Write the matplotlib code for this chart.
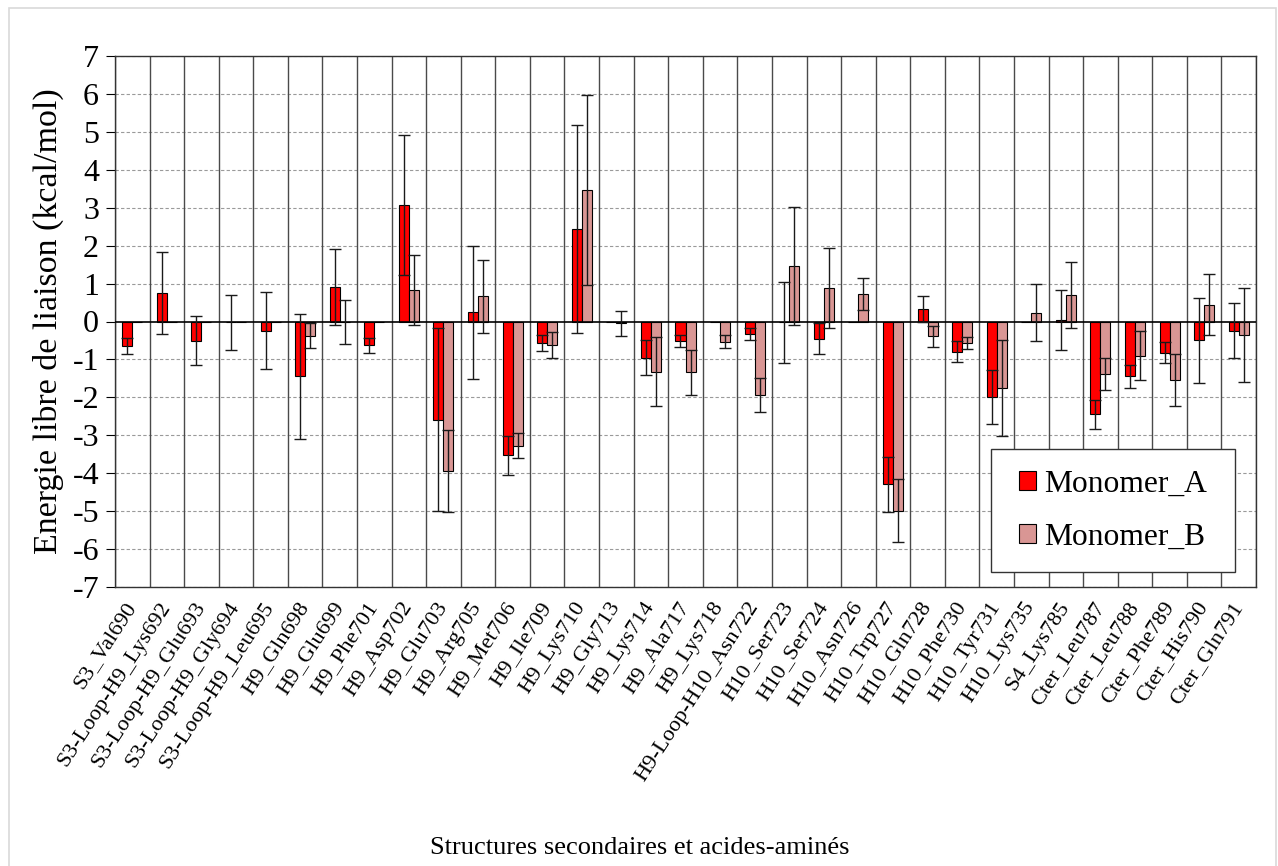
import numpy as np
import matplotlib
matplotlib.use("Agg")
import matplotlib.pyplot as plt
from matplotlib.patches import Rectangle

plt.rcParams['font.family'] = ['Liberation Serif', 'DejaVu Serif']

categories = ["S3_Val690", "S3-Loop-H9_Lys692", "S3-Loop-H9_Glu693", "S3-Loop-H9_Gly694",
              "S3-Loop-H9_Leu695", "H9_Gln698", "H9_Glu699", "H9_Phe701", "H9_Asp702",
              "H9_Glu703", "H9_Arg705", "H9_Met706", "H9_Ile709", "H9_Lys710", "H9_Gly713",
              "H9_Lys714", "H9_Ala717", "H9_Lys718", "H9-Loop-H10_Asn722", "H10_Ser723",
              "H10_Ser724", "H10_Asn726", "H10_Trp727", "H10_Gln728", "H10_Phe730",
              "H10_Tyr731", "H10_Lys735", "S4_Lys785", "Cter_Leu787", "Cter_Leu788",
              "Cter_Phe789", "Cter_His790", "Cter_Gln791"]

mono_a = [-0.64, 0.76, -0.51, -0.02, -0.24, -1.45, 0.91, -0.63, 3.07, -2.59, 0.24,
          -3.53, -0.57, 2.44, 0.0, -0.96, -0.51, 0.0, -0.33, -0.02, -0.46, 0.0, -4.29,
          0.34, -0.80, -1.99, 0.0, 0.04, -2.45, -1.45, -0.82, -0.50, -0.24]
err_a = [0.21, 1.08, 0.65, 0.73, 1.01, 1.65, 1.01, 0.19, 1.84, 2.41, 1.76, 0.51, 0.21,
         2.75, 0.0, 0.46, 0.16, 0.0, 0.15, 1.07, 0.41, 0.0, 0.72, 0.34, 0.28, 0.70, 0.0,
         0.78, 0.38, 0.30, 0.28, 1.11, 0.72]

mono_b = [0.0, 0.0, 0.0, 0.0, 0.0, -0.37, -0.01, 0.0, 0.84, -3.94, 0.66, -3.27, -0.62,
          3.47, -0.05, -1.32, -1.34, -0.53, -1.93, 1.47, 0.89, 0.72, -4.99, -0.39, -0.57,
          -1.76, 0.23, 0.70, -1.38, -0.90, -1.54, 0.44, -0.35]
err_b = [0.0, 0.0, 0.0, 0.0, 0.0, 0.33, 0.58, 0.0, 0.92, 1.09, 0.96, 0.33, 0.34, 2.50,
         0.32, 0.92, 0.59, 0.18, 0.45, 1.55, 1.06, 0.42, 0.83, 0.28, 0.15, 1.26, 0.75,
         0.88, 0.42, 0.65, 0.68, 0.80, 1.24]

yticks = list(range(-7, 8))

fig = plt.figure(figsize=(12.78, 8.66), dpi=100)
ax = fig.add_axes([115/1278, 279/866, (1256-115)/1278, (587-56)/866])

x = np.arange(len(categories))
w = 0.29
off = 0.145

ax.bar(x - off, mono_a, w, color='#FF0000', edgecolor='black', linewidth=0.8,
       zorder=3, label='Monomer_A')
ax.bar(x + off, mono_b, w, color='#D99694', edgecolor='black', linewidth=0.8,
       zorder=3, label='Monomer_B')

ea = np.array(err_a); eb = np.array(err_b)
va = np.array(mono_a); vb = np.array(mono_b)
ma = ea > 0; mb = eb > 0
ax.errorbar(x[ma] - off, va[ma], yerr=ea[ma], fmt='none', ecolor='#1a1a1a',
            elinewidth=1, capsize=4.5, capthick=1, zorder=4)
ax.errorbar(x[mb] + off, vb[mb], yerr=eb[mb], fmt='none', ecolor='#1a1a1a',
            elinewidth=1, capsize=4.5, capthick=1, zorder=4)

ax.set_xlim(-0.5, len(categories) - 0.5)
ax.set_ylim(-7, 7)
ax.set_yticks(yticks)
ax.set_yticklabels([str(t) for t in yticks], fontsize=23)
ax.tick_params(axis='y', direction='out', length=6.5, width=0.8, pad=5)

ax.set_xticks(x)
ax.set_xticklabels(categories, rotation=57, ha='right', va='center',
                   rotation_mode='anchor', fontsize=16.2)
ax.tick_params(axis='x', length=0, pad=12)

for t in yticks:
    if t == 0:
        continue
    ax.axhline(t, color='#9a9a9a', lw=0.8, ls=(0, (3, 2)), zorder=1)
ax.axhline(0, color='black', lw=1.2, zorder=3.5)
for b in np.arange(-0.5, len(categories), 1.0):
    ax.axvline(b, color='#4a4a4a', lw=1, zorder=1.5)

for s in ax.spines.values():
    s.set_color('#333333')
    s.set_linewidth(1)

ax.set_ylabel('Energie libre de liaison (kcal/mol)', fontsize=24.5, labelpad=6)
fig.text(640/1278, 1 - 848/866, 'Structures secondaires et acides-aminés',
         fontsize=19, ha='center', va='center')

# legend box
x0 = (991 - 115) / 1141
y0 = (587 - 572) / 531
lw_ = (1235 - 991) / 1141
lh_ = (572 - 449) / 531
ax.add_patch(Rectangle((x0, y0), lw_, lh_, transform=ax.transAxes, facecolor='white',
                       edgecolor='#333333', lw=1, zorder=5))
leg = ax.legend(loc='center', bbox_to_anchor=(x0 + lw_/2, y0 + lh_/2), frameon=False,
                fontsize=22.7, handlelength=0.55, handleheight=0.55, handletextpad=0.25,
                labelspacing=0.75, borderpad=0.2)
leg.set_zorder(6)

fig.add_artist(Rectangle((9/1278, -0.01), (1276-9)/1278, (866-8)/866 + 0.01,
                         transform=fig.transFigure, fill=False, edgecolor='#d9d9d9', lw=1.2))

fig.savefig('out.png', dpi=100)
